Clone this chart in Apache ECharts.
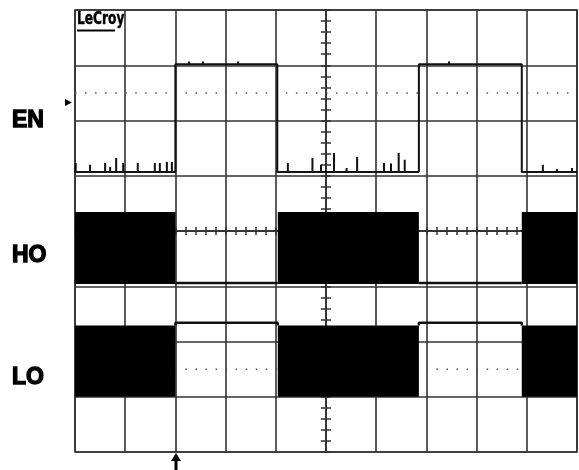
<!DOCTYPE html>
<html><head><meta charset="utf-8">
<script src="https://cdn.jsdelivr.net/npm/echarts@6/dist/echarts.min.js"></script>
<style>html,body{margin:0;padding:0;background:#fff}#c{width:579px;height:470px}</style>
</head><body><div id="c"></div>
<script>
// Time in screen divisions (-5..5), amplitude in screen divisions (-4..4)
const enLow = 1.07, enHigh = 3.02;
const enEdges = [-5, -3.0, -0.97, 1.85, 3.9, 5];          // segment boundaries
const enStates = ['low', 'high', 'low', 'high', 'low'];
// spikes on EN: [time, height]
const enSpikes = [
  [-4.986,0.16],[-4.70,0.13],[-4.40,0.16],[-4.30,0.09],[-4.18,0.25],[-4.04,0.16],
  [-3.75,0.16],[-3.41,0.16],[-3.31,0.16],[-3.17,0.18],[-3.07,0.18],
  [-2.73,0.05],[-2.45,0.05],[-1.75,0.05],
  [-0.76,0.16],[-0.27,0.25],[-0.10,0.13],[0.16,0.34],[0.41,0.07],[0.62,0.27],
  [1.155,0.16],[1.295,0.15],[1.448,0.34],[1.568,0.22],
  [2.45,0.05],
  [4.32,0.13],[4.60,0.05],[4.90,0.07]
];
// switching bursts (solid black) for HO and LO: [start, end]
const bursts = [[-5, -3.0], [-0.96, 1.85], [3.9, 5]];
const hoBurstLow = -0.96, hoBurstHigh = 0.344, hoLowLevel = -0.94;
const loBurstLow = -3.0, loBurstHigh = -1.71, loHighLevel = -1.66;
const dottedLevels = [2.5, -2.5];

// build EN trace
const enData = [];
for (let i = 0; i < enStates.length; i++) {
  const a = enEdges[i], b = enEdges[i + 1];
  const lv = enStates[i] === 'low' ? enLow : enHigh;
  enData.push([a, lv]);
  enSpikes.filter(s => s[0] > a && s[0] < b).forEach(s => {
    enData.push([s[0], lv], [s[0], lv + s[1]], [s[0], lv]);
  });
  enData.push([b, lv]);
}
// gaps between bursts
const gaps = [];
for (let i = 0; i < bursts.length - 1; i++) gaps.push([bursts[i][1], bursts[i + 1][0]]);
const hoLine = [], loLine = [];
gaps.forEach(g => {
  hoLine.push([g[0], hoLowLevel], [g[1], hoLowLevel], [g[1], '-']);
  loLine.push([g[0], loBurstHigh], [g[0], loHighLevel], [g[1], loHighLevel], [g[1], loBurstHigh], [g[1], '-']);
});
const burstRects = [];
bursts.forEach(b => {
  burstRects.push([b[0], b[1], hoBurstLow, hoBurstHigh]);
  burstRects.push([b[0], b[1], loBurstLow, loBurstHigh]);
});

const gridCol = '#333';
function axisX(pos, split) {
  return {
    type: 'value', min: -5, max: 5, interval: 1, position: pos,
    axisLine: { onZero: true, lineStyle: { color: gridCol, width: 1.5 } },
    axisTick: { show: true, length: 4, lineStyle: { color: gridCol, width: 1.5 } },
    minorTick: { show: true, splitNumber: 5, length: 4, lineStyle: { color: gridCol, width: 1.5 } },
    axisLabel: { show: false },
    splitLine: { show: split, lineStyle: { color: gridCol, width: 1.6 } }
  };
}
function axisY(pos, split) {
  return {
    type: 'value', min: -4, max: 4, interval: 1, position: pos,
    axisLine: { onZero: true, lineStyle: { color: gridCol, width: 1.5 } },
    axisTick: { show: true, length: 5, lineStyle: { color: gridCol, width: 1.5 } },
    minorTick: { show: true, splitNumber: 5, length: 5, lineStyle: { color: gridCol, width: 1.5 } },
    axisLabel: { show: false },
    splitLine: { show: split, lineStyle: { color: gridCol, width: 1.6 } }
  };
}
const labelFont = 'bold 23px "Liberation Sans", Arial';
function chLabel(t, y) {
  return { type: 'text', x: 12, y: y, style: { text: t, font: labelFont, fill: '#000', stroke: '#000', lineWidth: 1.3, textVerticalAlign: 'middle' } };
}

const chart = echarts.init(document.getElementById('c'), null, { renderer: 'canvas' });
chart.setOption({
  animation: false,
  backgroundColor: '#fff',
  grid: { left: 75, top: 10, width: 502, height: 442, show: true, borderColor: gridCol, borderWidth: 1.6 },
  xAxis: [axisX('bottom', true), axisX('top', false)],
  yAxis: [axisY('left', true), axisY('right', false)],
  series: [
    ...dottedLevels.map(l => ({
      type: 'line', xAxisIndex: 0, yAxisIndex: 0, z: 1, symbol: 'none', silent: true,
      data: [[-5, l], [5, l]],
      lineStyle: { color: '#555', width: 1.5, type: [1.5, 8.54] }
    })),
    {
      type: 'custom', xAxisIndex: 0, yAxisIndex: 0, z: 3, silent: true,
      data: burstRects,
      encode: { x: [0, 1], y: [2, 3] },
      renderItem: (params, api) => {
        const p0 = api.coord([api.value(0), api.value(3)]);
        const p1 = api.coord([api.value(1), api.value(2)]);
        return { type: 'rect', shape: { x: p0[0], y: p0[1], width: p1[0] - p0[0], height: p1[1] - p0[1] }, style: { fill: '#000' } };
      }
    },
    {
      name: 'EN', type: 'line', xAxisIndex: 0, yAxisIndex: 0, z: 4, symbol: 'none', silent: true,
      data: enData, lineStyle: { color: '#111', width: 2 }
    },
    {
      name: 'HO', type: 'line', xAxisIndex: 0, yAxisIndex: 0, z: 4, symbol: 'none', silent: true,
      data: hoLine, connectNulls: false, lineStyle: { color: '#111', width: 2.5 }
    },
    {
      name: 'LO', type: 'line', xAxisIndex: 0, yAxisIndex: 0, z: 4, symbol: 'none', silent: true,
      data: loLine, connectNulls: false, lineStyle: { color: '#111', width: 2.5 }
    }
  ],
  graphic: [
    chLabel('EN', 121), chLabel('HO', 255.5), chLabel('LO', 377.5),
    { type: 'text', x: 77, y: 20, scaleX: 0.8, style: { text: 'LeCroy', font: 'bold 17px "DejaVu Sans Condensed", "DejaVu Sans"', fill: '#000', stroke: '#000', lineWidth: 0.4, textVerticalAlign: 'middle' } },
    { type: 'line', shape: { x1: 77, y1: 30.5, x2: 115, y2: 30.5 }, style: { stroke: '#000', lineWidth: 2 } },
    { type: 'polygon', shape: { points: [[65, 99], [72, 102.5], [65, 106]] }, style: { fill: '#000' } },
    { type: 'polygon', shape: { points: [[171, 461], [176, 453], [181, 461]] }, style: { fill: '#000' } },
    { type: 'rect', shape: { x: 174.5, y: 460, width: 3, height: 10 }, style: { fill: '#000' } }
  ]
});
</script></body></html>
